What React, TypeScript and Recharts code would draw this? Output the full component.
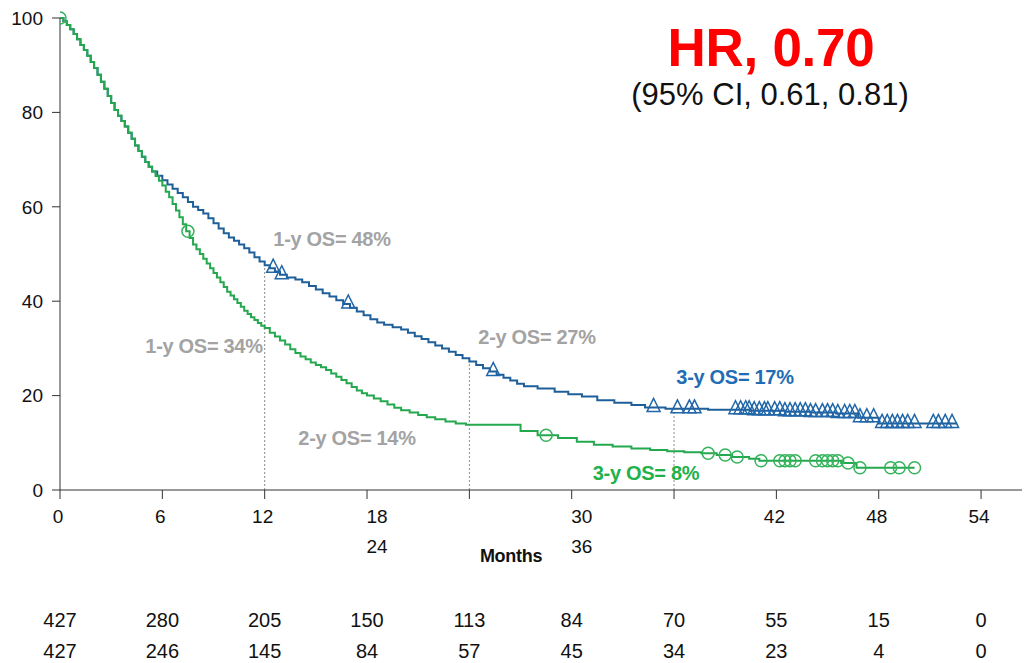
import React from 'react'
import { ComposedChart, Line, Scatter, XAxis, YAxis, ReferenceLine } from 'recharts'

const font = "'Liberation Sans', Arial, sans-serif"

const monthTicks = [0, 6, 12, 18, 24, 30, 36, 42, 48, 54]
const survivalTicks = [0, 20, 40, 60, 80, 100]
// landmark months with the dotted drop lines
const landmarks = [12, 24, 36]

// Kaplan-Meier steps: [month, % surviving]
const blueSteps: [number, number][] = [
  [0, 100], [0.2, 99.3], [0.4, 98.5], [0.6, 97.6], [0.8, 96.6], [1.0, 95.5], [1.2, 94.3], [1.4, 93.2],
  [1.6, 92], [1.8, 90.7], [2.0, 89.4], [2.2, 88], [2.4, 86.5], [2.6, 85], [2.8, 83.5], [3.0, 82],
  [3.2, 80.5], [3.4, 79.3], [3.6, 78.2], [3.8, 77], [4.0, 75.7], [4.2, 74.4], [4.4, 73], [4.6, 71.8],
  [4.8, 70.6], [5.0, 69.5], [5.2, 68.5], [5.4, 67.5], [5.7, 66.6], [6.0, 65.6], [6.3, 64.7], [6.6, 63.8],
  [6.9, 62.9], [7.2, 62], [7.5, 61], [7.8, 60], [8.1, 59.3], [8.4, 58.6], [8.7, 57.6], [9.0, 56.5],
  [9.3, 55.4], [9.6, 54.4], [9.9, 53.5], [10.2, 52.8], [10.5, 52], [10.8, 51.2], [11.1, 50.3], [11.4, 49.3],
  [11.7, 48.4], [12.0, 47.6], [12.3, 47], [12.6, 46.3], [12.9, 45.6], [13.3, 45], [13.8, 44.6], [14.2, 44],
  [14.6, 43.2], [15.0, 42.5], [15.4, 41.7], [15.8, 41], [16.2, 40.2], [16.6, 39.4], [17.0, 38.6], [17.4, 37.8],
  [17.8, 37], [18.2, 36.2], [18.6, 35.5], [19.0, 35], [19.5, 34.5], [20.0, 34], [20.4, 33.3], [20.8, 32.6],
  [21.2, 32], [21.6, 31.3], [22.0, 30.6], [22.4, 30], [22.8, 29.3], [23.2, 28.6], [23.6, 27.9], [24.0, 27.2],
  [24.4, 26.5], [24.8, 25.8], [25.2, 25.1], [25.6, 24.4], [26.0, 23.8], [26.4, 23.2], [26.8, 22.5], [27.2, 22],
  [28.0, 21.5], [29.0, 20.8], [29.8, 20.3], [30.6, 19.8], [31.5, 19], [32.5, 18.5], [33.5, 18], [34.3, 17.5],
  [35.5, 17.2], [38.0, 17], [40.5, 16.8], [42.5, 16.6], [44.0, 16.4], [45.5, 16.2], [46.8, 15.3], [48.0, 14.1],
  [52.6, 14.1],
]

const greenSteps: [number, number][] = [
  [0, 100], [0.2, 99.3], [0.4, 98.5], [0.6, 97.6], [0.8, 96.6], [1.0, 95.5], [1.2, 94.3], [1.4, 93.2],
  [1.6, 92], [1.8, 90.7], [2.0, 89.4], [2.2, 88], [2.4, 86.5], [2.6, 85], [2.8, 83.5], [3.0, 82],
  [3.2, 80.5], [3.4, 79.3], [3.6, 78.2], [3.8, 77], [4.0, 75.7], [4.2, 74.4], [4.4, 73], [4.6, 71.8],
  [4.8, 70.6], [5.0, 69.5], [5.2, 68.5], [5.4, 67.5], [5.6, 66.5], [5.8, 65.5], [6.0, 64.5], [6.2, 63.2],
  [6.4, 62], [6.6, 60.6], [6.8, 59.2], [7.0, 57.8], [7.2, 56.3], [7.4, 54.8], [7.6, 53.4], [7.8, 52],
  [8.0, 51], [8.2, 50], [8.4, 49], [8.6, 48], [8.8, 47], [9.0, 46], [9.2, 45], [9.4, 44],
  [9.6, 43], [9.8, 42], [10.0, 41.2], [10.2, 40.4], [10.4, 39.6], [10.6, 38.8], [10.8, 38], [11.0, 37.3],
  [11.2, 36.6], [11.4, 36], [11.6, 35.4], [11.8, 34.8], [12.0, 34.3], [12.3, 33.3], [12.6, 32.5], [12.9, 31.7],
  [13.2, 30.8], [13.5, 29.8], [13.8, 29], [14.1, 28.3], [14.4, 27.7], [14.7, 27], [15.0, 26.5], [15.3, 26],
  [15.6, 25.4], [15.9, 24.7], [16.2, 24], [16.5, 23.3], [16.8, 22.6], [17.1, 21.8], [17.4, 21.1], [17.7, 20.5],
  [18.0, 20], [18.4, 19.4], [18.8, 18.8], [19.2, 18.1], [19.6, 17.4], [20.0, 16.9], [20.5, 16.4], [21.0, 15.9],
  [21.5, 15.4], [22.0, 15], [22.6, 14.5], [23.2, 14.1], [23.8, 13.8], [27.0, 12.5], [28.0, 11.6], [29.2, 11],
  [30.3, 10.2], [31.3, 9.6], [32.4, 9.2], [33.5, 8.8], [34.6, 8.5], [35.6, 8.2], [36.6, 8.0], [37.6, 7.8],
  [38.5, 7.4], [39.4, 7.0], [40.4, 6.6], [41.0, 6.2], [45.8, 5.7], [46.7, 4.7], [50.1, 4.7],
]

// censoring times (months)
const blueCensor = [
  12.5, 13.0, 16.9, 25.4, 34.8, 36.2, 36.9, 37.2, 39.6, 39.9, 40.2, 40.4, 40.7, 41.0, 41.3,
  41.5, 41.9, 42.2, 42.5, 42.8, 43.1, 43.4, 43.7, 44.0, 44.3, 44.7, 45.0, 45.3, 45.6, 46.0, 46.3,
  46.6, 46.9, 47.3, 47.7, 48.2, 48.5, 48.8, 49.1, 49.4, 49.7, 50.1, 51.2, 51.5, 51.9, 52.3,
]
const greenCensor = [
  0, 7.5, 28.5, 38.0, 39.0, 39.7, 41.1, 42.2, 42.5, 42.8, 43.1, 44.3, 44.7, 45.0, 45.3, 45.6,
  46.2, 46.9, 48.7, 49.2, 50.1,
]

// numbers at risk under each month tick
const atRiskBlue = [427, 280, 205, 150, 113, 84, 70, 55, 15, 0]
const atRiskGreen = [427, 246, 145, 84, 57, 45, 34, 23, 4, 0]

const BLUE = '#1f5f99'
const BLUE_MARK = '#2066a8'
const GREEN = '#24a84e'
const GREEN_MARK = '#35b35c'

const survivalAt = (steps: [number, number][], t: number) => {
  let s = steps[0][1]
  for (const [st, sv] of steps) {
    if (st <= t) s = sv
  }
  return s
}

const blueData = blueSteps.map(([t, s]) => ({ t, s }))
const greenData = greenSteps.map(([t, s]) => ({ t, s }))
const blueCensorData = blueCensor.map((t) => ({ t, s: survivalAt(blueSteps, t) }))
const greenCensorData = greenCensor.map((t) => ({ t, s: survivalAt(greenSteps, t) }))
const riskRows = [
  ...monthTicks.map((t, i) => ({ t, row: 1.5, n: atRiskBlue[i] })),
  ...monthTicks.map((t, i) => ({ t, row: 0.5, n: atRiskGreen[i] })),
]

// the original slide stacks 24 under 18 and 36 under 30
const stackedUnder: Record<number, number> = { 18: 24, 30: 36 }
const hiddenTicks = Object.values(stackedUnder)

const MonthTick = (props: any) => {
  const { x, y, payload } = props
  const v = payload.value
  if (hiddenTicks.includes(v)) return <g />
  const under = stackedUnder[v]
  const dx = under !== undefined ? 10 : -2
  return (
    <g>
      <text x={x + dx} y={y} dy="0.71em" textAnchor="middle" fontSize={19} fill="#111" fontFamily={font}>{v}</text>
      {under !== undefined && (
        <text x={x + dx} y={y + 30} dy="0.71em" textAnchor="middle" fontSize={19} fill="#111" fontFamily={font}>{under}</text>
      )}
    </g>
  )
}

const Triangle = (props: any) => {
  const { cx, cy } = props
  return (
    <polygon
      points={`${cx},${cy - 9} ${cx - 6.5},${cy + 4} ${cx + 6.5},${cy + 4}`}
      fill="none" stroke={BLUE_MARK} strokeWidth={1.5}
    />
  )
}

const Ring = (props: any) => {
  const { cx, cy } = props
  return <circle cx={cx} cy={cy} r={6} fill="none" stroke={GREEN_MARK} strokeWidth={1.5} />
}

const RiskNumber = (props: any) => {
  const { cx, cy, payload } = props
  return (
    <text x={cx} y={cy} textAnchor="middle" dominantBaseline="central" fontSize={20} fill="#111" fontFamily={font}>
      {payload.n}
    </text>
  )
}

const Note = ({ x, y, text, color, size, bold = true }: { x: number, y: number, text: string, color: string, size: number, bold?: boolean }) => (
  <div style={{
    position: 'absolute', left: x, top: y, transform: 'translate(-50%, -50%)',
    color, fontSize: size, fontWeight: bold ? 700 : 400, fontFamily: font,
    lineHeight: 1, whiteSpace: 'nowrap', letterSpacing: bold ? '-0.3px' : 0
  }}>
    {text}
  </div>
)

export default function App() {
  return (
    <div style={{ position: 'absolute', left: 0, top: 0, width: 1026, height: 663, background: '#fff', fontFamily: font }}>
      <ComposedChart width={1026} height={600} margin={{ top: 18, right: 4, left: 0, bottom: 0 }}>
        <XAxis
          type="number" dataKey="t" domain={[0, 56.4]} ticks={monthTicks} interval={0}
          tick={(p: any) => <MonthTick {...p} />} tickSize={9} tickMargin={11} height={110}
          stroke="#333" allowDataOverflow
        />
        <YAxis
          type="number" dataKey="s" domain={[0, 100]} ticks={survivalTicks} interval={0}
          width={60} tickSize={8} tickMargin={9} stroke="#333"
          tick={{ fill: '#111', fontSize: 19, fontFamily: font }}
        />
        {landmarks.map((t) => (
          <ReferenceLine
            key={t}
            segment={[{ x: t, y: 0 }, { x: t, y: survivalAt(blueSteps, t) }]}
            stroke="#8c8c8c" strokeDasharray="2 2" strokeWidth={1}
          />
        ))}
        <Line data={blueData} dataKey="s" type="stepAfter" stroke={BLUE} strokeWidth={2} dot={false} isAnimationActive={false} />
        <Line data={greenData} dataKey="s" type="stepAfter" stroke={GREEN} strokeWidth={2} dot={false} isAnimationActive={false} />
        <Scatter data={blueCensorData} shape={Triangle} isAnimationActive={false} />
        <Scatter data={greenCensorData} shape={Ring} isAnimationActive={false} />
      </ComposedChart>

      <div style={{ position: 'absolute', left: 0, top: 604 }}>
        <ComposedChart width={1026} height={63} margin={{ top: 0, right: 4, left: 60, bottom: 0 }}>
          <XAxis hide type="number" dataKey="t" domain={[0, 56.4]} />
          <YAxis hide type="number" dataKey="row" domain={[0, 2]} />
          <Scatter data={riskRows} shape={RiskNumber} isAnimationActive={false} />
        </ComposedChart>
      </div>

      <Note x={511} y={556} text="Months" color="#111" size={18} />
      <Note x={771} y={47} text="HR, 0.70" color="#ff0000" size={53} />
      <Note x={770} y={94} text="(95% CI, 0.61, 0.81)" color="#111" size={31} bold={false} />

      <Note x={332} y={239} text="1-y OS= 48%" color="#a3a3a3" size={20} />
      <Note x={204} y={346} text="1-y OS= 34%" color="#a3a3a3" size={20} />
      <Note x={537} y={337} text="2-y OS= 27%" color="#a3a3a3" size={20} />
      <Note x={357} y={438} text="2-y OS= 14%" color="#a3a3a3" size={20} />
      <Note x={735} y={377} text="3-y OS= 17%" color="#1f6db5" size={20} />
      <Note x={646} y={473} text="3-y OS= 8%" color="#1fb14a" size={20} />
    </div>
  )
}
